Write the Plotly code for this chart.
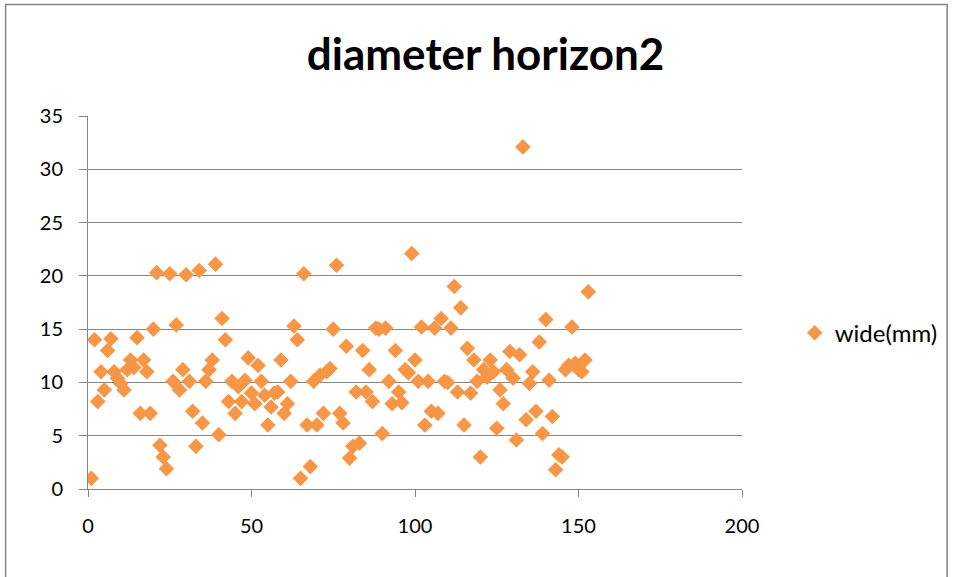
import plotly.graph_objects as go

x_vals = list(range(1, 154))
wide_mm = [
    1.0, 14.0, 8.2, 11.0, 9.3, 13.0, 14.1, 11.0, 10.4, 9.9,
    9.3, 11.2, 12.1, 11.4, 14.2, 7.1, 12.1, 11.0, 7.1, 15.0,
    20.3, 4.1, 3.0, 1.9, 20.2, 10.1, 15.4, 9.3, 11.2, 20.1,
    10.1, 7.3, 4.0, 20.5, 6.2, 10.1, 11.2, 12.1, 21.1, 5.1,
    16.0, 14.0, 8.2, 10.1, 7.1, 9.6, 8.2, 10.2, 12.3, 9.0,
    8.0, 11.6, 10.1, 8.8, 6.0, 7.7, 9.0, 9.1, 12.1, 7.1,
    8.0, 10.1, 15.3, 14.0, 1.0, 20.2, 6.0, 2.1, 10.1, 6.0,
    10.7, 7.1, 11.0, 11.3, 15.0, 21.0, 7.1, 6.2, 13.4, 2.9,
    4.0, 9.1, 4.3, 13.0, 9.1, 11.2, 8.2, 15.1, 15.0, 5.2,
    15.1, 10.1, 8.0, 13.0, 9.1, 8.1, 11.2, 10.9, 22.1, 12.1,
    10.1, 15.2, 6.0, 10.1, 7.3, 15.1, 7.1, 16.0, 10.1, 10.0,
    15.1, 19.0, 9.1, 17.0, 6.0, 13.2, 9.0, 12.1, 10.1, 3.0,
    11.2, 10.5, 12.1, 11.0, 5.7, 9.3, 8.0, 11.2, 12.9, 10.4,
    4.6, 12.6, 32.1, 6.5, 9.9, 11.0, 7.3, 13.8, 5.2, 15.9,
    10.2, 6.8, 1.8, 3.2, 3.0, 11.2, 11.6, 15.2, 11.8, 11.2,
    11.0, 12.1, 18.5,
]
x_ticks = [0, 50, 100, 150, 200]
y_ticks = [0, 5, 10, 15, 20, 25, 30, 35]

FONT = "Lato"
GRID = "#868686"

fig = go.Figure()
fig.add_trace(go.Scatter(
    x=x_vals, y=wide_mm, mode="markers", name="wide(mm)",
    marker=dict(symbol="diamond", size=12, color="#F79646", line=dict(width=0)),
))

fig.update_layout(
    width=954, height=577,
    margin=dict(l=88, r=211, t=116, b=88),
    paper_bgcolor="white", plot_bgcolor="white",
    font=dict(family=FONT, size=20, color="#000000"),
    title=dict(text="<b>diameter horizon2</b>", x=0.509, xanchor="center",
               y=1 - 55 / 577, yanchor="middle", yref="container",
               font=dict(family=FONT, size=44, color="#000000")),
    showlegend=True,
    legend=dict(x=1.079, y=0.418, xanchor="left", yanchor="middle",
                font=dict(family=FONT, size=24), bgcolor="rgba(0,0,0,0)",
                itemwidth=30),
    xaxis=dict(range=[0, 200], tickvals=x_ticks, showgrid=False, zeroline=False,
               showline=True, linecolor=GRID, linewidth=1,
               ticks="outside", ticklen=7, tickcolor=GRID, ticklabelstandoff=12),
    yaxis=dict(range=[0, 35], tickvals=y_ticks, showgrid=True, gridcolor=GRID,
               gridwidth=1, zeroline=False, showline=True, linecolor=GRID,
               linewidth=1, ticks="outside", ticklen=8, tickcolor=GRID,
               ticklabelstandoff=12),
    shapes=[dict(type="rect", xref="paper", yref="paper",
                 x0=(5.5 - 88) / 655, x1=(948.5 - 88) / 655,
                 y0=(489 - 590) / 373, y1=(489 - 4.5) / 373,
                 line=dict(color="#868686", width=1.5), layer="below")],
)

fig.write_html("out.html")
